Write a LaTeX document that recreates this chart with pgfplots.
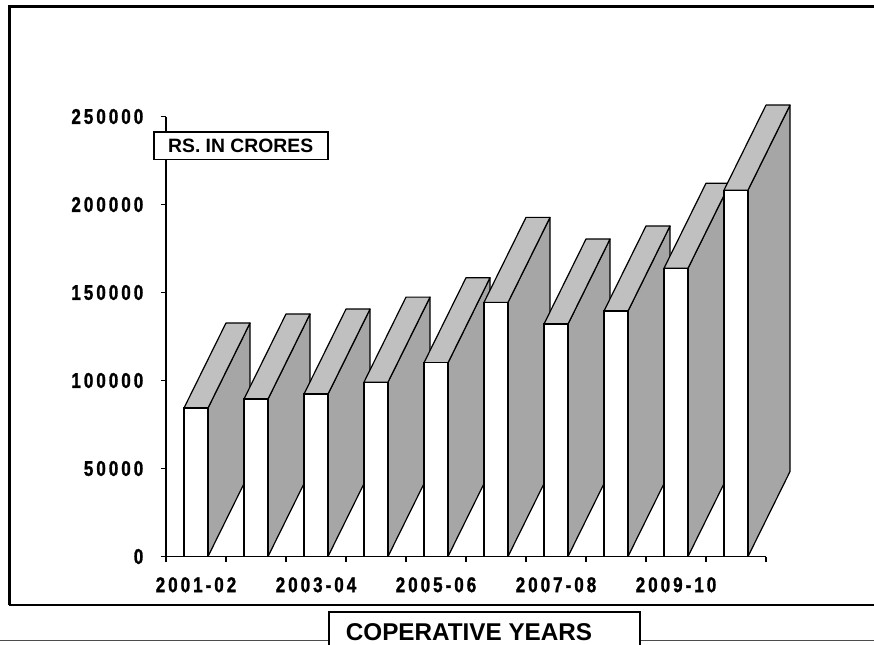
\documentclass[border=0pt]{standalone}
\usepackage{fontspec}
\setmainfont{Liberation Sans}
\newfontfamily\tickfont[LetterSpace=14,FakeStretch=0.80,FakeBold=1.2]{Liberation Sans Bold}
\usepackage{pgfplots}
\usepackage{pgfplotstable}
\pgfplotsset{compat=1.18}

\definecolor{sidegray}{RGB}{166,166,166}
\definecolor{topgray}{RGB}{192,192,192}

% front values
\pgfplotstableread{
x val
1 84400
2 89500
3 92300
4 99100
5 110100
6 144400
7 132100
8 139500
9 163800
10 208200
}\datatable

% corner offsets for the fake 3d faces (depth 0.7 in x, 48300 in y)
\pgfplotstableread{
dx fy dy
0.2 0 0
0.9 0 48300
0.9 1 48300
0.2 1 0
0.2 0 0
}\sidetab
\pgfplotstableread{
dx fy dy
-0.2 1 0
0.2 1 0
0.9 1 48300
0.5 1 48300
-0.2 1 0
}\toptab

\begin{document}
\begin{tikzpicture}
\useasboundingbox (-124.5pt,-65.6pt) rectangle (531pt,417.4pt);
% outer frame
\draw[line width=1.7pt] (-117.4pt,-36.4pt) -- (-117.4pt,412.5pt) -- (540pt,412.5pt);
\draw[line width=1.7pt] (-117.4pt,-36.4pt) -- (540pt,-36.4pt);
\begin{axis}[
    scale only axis,
    width=450pt, height=330pt,
    xmin=0.5, xmax=10.5,
    ymin=0, ymax=250000,
    axis lines*=left,
    axis line style={black, line width=0.9pt},
    clip=false,
    xtick={0.5,1.5,...,10.5},
    xticklabels={},
    extra x ticks={1,3,5,7,9},
    extra x tick labels={2001-02,2003-04,2005-06,2007-08,2009-10},
    extra x tick style={major tick length=0pt},
    ytick={0,50000,100000,150000,200000,250000},
    yticklabels={0,50000,100000,150000,200000,250000},
    scaled y ticks=false,
    tick align=outside,
    major tick length=4pt,
    tick style={black, line width=0.9pt},
    tick label style={font=\tickfont\fontsize{16}{18}\selectfont},
    xticklabel style={yshift=-12pt},
    yticklabel style={xshift=-9.5pt},
]
\pgfplotsinvokeforeach{0,...,9}{
    \pgfplotstablegetelem{#1}{x}\of\datatable \let\bx\pgfplotsretval
    \pgfplotstablegetelem{#1}{val}\of\datatable \let\bv\pgfplotsretval
    \edef\tmp{
        \noexpand\addplot[fill=sidegray, draw=black, line width=0.9pt, line join=round, mark=none]
            table[x expr=\noexpand\thisrow{dx}+\bx, y expr=\noexpand\thisrow{fy}*\bv+\noexpand\thisrow{dy}] {\noexpand\sidetab};
        \noexpand\addplot[fill=topgray, draw=black, line width=0.9pt, line join=round, mark=none]
            table[x expr=\noexpand\thisrow{dx}+\bx, y expr=\noexpand\thisrow{fy}*\bv+\noexpand\thisrow{dy}] {\noexpand\toptab};
    }\tmp
}
% front faces
\addplot[ybar, bar width=0.4, bar shift=0pt, fill=white, draw=black, line width=0.9pt]
    table[x=x, y=val] {\datatable};
\end{axis}
% y-axis title box
\draw[fill=white, line width=0.8pt] (-9pt,298.1pt) rectangle (121.5pt,318.4pt);
\node[font=\bfseries\fontsize{14.5}{16}\selectfont] at (56pt,308.2pt) {RS. IN CRORES};
% x-axis title box
\draw[line width=1.1pt, black!70] (-130pt,-63pt) -- (540pt,-63pt);
\draw[fill=white, line width=0.8pt] (122.25pt,-80pt) rectangle (355.5pt,-41.6pt);
\node[font=\bfseries\fontsize{18.2}{20}\selectfont, anchor=base] at (227.25pt,-62.6pt) {COPERATIVE YEARS};
\end{tikzpicture}
\end{document}
